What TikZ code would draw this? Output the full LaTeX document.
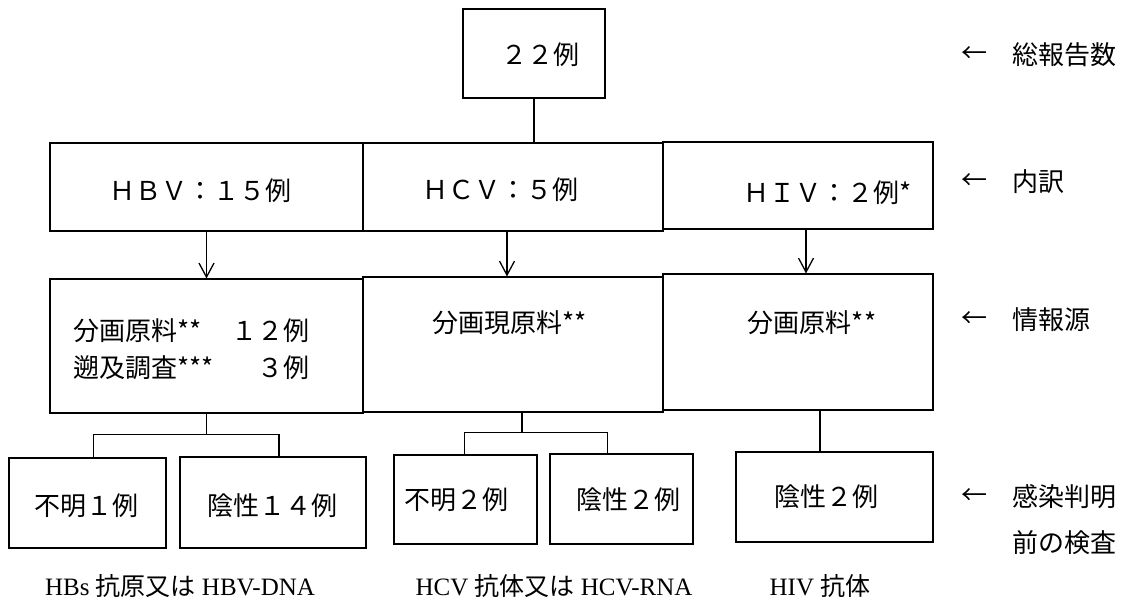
\documentclass[tikz,border=0pt]{standalone}
\usepackage{fontspec}
\setmainfont{Liberation Serif}
\newfontfamily\jp{Noto Sans CJK JP}
\usetikzlibrary{arrows.meta}
\begin{document}
\begin{tikzpicture}[x=1pt,y=-1pt,
  box/.style={draw, line width=1.1pt, inner sep=0pt},
  jt/.style={font=\jp\fontsize{26}{37}\selectfont, inner sep=0pt},
  lt/.style={font=\fontsize{25}{30}\selectfont, inner sep=0pt},
  arr/.style={-{Straight Barb[length=14pt,width=15pt,line width=1.3pt]}, line width=1.1pt},
  ln/.style={line width=1.1pt}]
\useasboundingbox (0,0) rectangle (1134,606);

% boxes
\node[box, minimum width=142, minimum height=89] (top) at (534,53.5) {};
\node[box, minimum width=313, minimum height=88] (hbv1) at (206.5,187) {};
\node[box, minimum width=300, minimum height=88] (hcv1) at (513,187) {};
\node[box, minimum width=270, minimum height=87] (hiv1) at (798,185.5) {};
\node[box, minimum width=313, minimum height=134] (hbv2) at (206.5,346) {};
\node[box, minimum width=300, minimum height=135] (hcv2) at (513,344.5) {};
\node[box, minimum width=270, minimum height=136] (hiv2) at (798,342) {};
\node[box, minimum width=157, minimum height=90] (unk1) at (87.5,503) {};
\node[box, minimum width=186, minimum height=91] (neg14) at (273,502.5) {};
\node[box, minimum width=143, minimum height=89] (unk2) at (465.5,499.5) {};
\node[box, minimum width=143, minimum height=90] (neg2b) at (621.5,499) {};
\node[box, minimum width=197, minimum height=90] (neg2c) at (834.5,497) {};

% texts in boxes
\node[jt] (ttop) at (540,55) {２２例};
\node[jt] (thbv1) at (200,191) {ＨＢＶ：１５例};
\node[jt] (thcv1) at (500,190) {ＨＣＶ：５例};
\node[jt] (thiv1) at (828,193) {ＨＩＶ：２例*};
\node[jt, anchor=west, text width=236, align=left] (thbv2) at (73,349.5)
  {分画原料**\hfill １２例\\遡及調査***\hfill ３例};
\node[jt, anchor=west] (thcv2) at (432,323) {分画現原料**};
\node[jt] (thiv2) at (812,323) {分画原料**};
\node[jt] (tunk1) at (86,506) {不明１例};
\node[jt] (tneg14) at (272,506) {陰性１４例};
\node[jt] (tunk2) at (456,500) {不明２例};
\node[jt] (tneg2b) at (628,500) {陰性２例};
\node[jt] (tneg2c) at (826,497) {陰性２例};

% bottom captions
\node[lt] (c1) at (180,586) {HBs {\jp 抗原又は} HBV-DNA};
\node[lt] (c2) at (554,586) {HCV {\jp 抗体又は} HCV-RNA};
\node[lt] (c3) at (820,586) {HIV {\jp 抗体}};

% right labels
\node[jt] (a1) at (974,55) {←};
\node[jt, anchor=west] (r1) at (1012,55) {総報告数};
\node[jt] (a2) at (974,182) {←};
\node[jt, anchor=west] (r2) at (1012,182) {内訳};
\node[jt] (a3) at (974,320) {←};
\node[jt, anchor=west] (r3) at (1012,320) {情報源};
\node[jt] (a4) at (974,497) {←};
\node[jt, anchor=west] (r4) at (1012,497) {感染判明};
\node[jt, anchor=west] (r5) at (1012,543) {前の検査};

% connectors
\draw[ln] (top.south) -- (top.south |- hcv1.north);
\draw[arr] (hbv1.south) -- (hbv1.south |- hbv2.north);
\draw[arr] ([xshift=-6]hcv1.south) -- ([xshift=-6]hcv1.south |- hcv2.north);
\draw[arr] ([xshift=8]hiv1.south) -- ([xshift=8]hiv1.south |- hiv2.north);

\draw[ln] (hbv2.south) -- ++(0,21) coordinate (hb);
\draw[ln] ([xshift=6]unk1.north) |- (hb) -| ([xshift=6]neg14.north);

\draw[ln] ([xshift=9]hcv2.south) -- ++(0,20) coordinate (hc);
\draw[ln] ([xshift=-1]unk2.north) |- (hc) -| ([xshift=-14]neg2b.north);

\draw[ln] ([xshift=-14.5]neg2c.north) -- ([xshift=-14.5]neg2c.north |- hiv2.south);
\end{tikzpicture}
\end{document}
